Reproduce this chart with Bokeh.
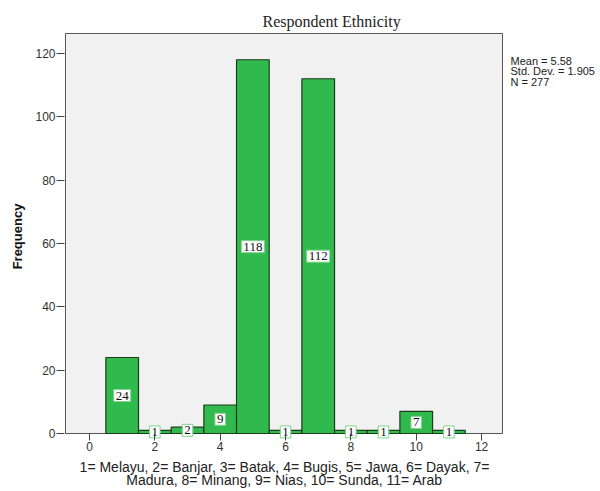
from bokeh.plotting import figure
from bokeh.models import ColumnDataSource, FixedTicker, Range1d, Title, LinearAxis
from bokeh.core.properties import value
from bokeh.embed import file_html
from bokeh.resources import INLINE

# Data
codes = [1, 2, 3, 4, 5, 6, 7, 8, 9, 10, 11]
counts = [24, 1, 2, 9, 118, 1, 112, 1, 1, 7, 1]
x_ticks = [0, 2, 4, 6, 8, 10, 12]
y_ticks = [0, 20, 40, 60, 80, 100, 120]
title_text = "Respondent Ethnicity"
stats_lines = ["Mean = 5.58", "Std. Dev. = 1.905", "N = 277"]
xlabel_lines = ["1= Melayu, 2= Banjar, 3= Batak, 4= Bugis, 5= Jawa, 6= Dayak, 7=",
                "Madura, 8= Minang, 9= Nias, 10= Sunda, 11= Arab"]

# Layout limits: grey panel and the (slightly larger) frame
panel_x = (-0.735, 12.64)
panel_y = (0, 126.3)
frame_x = (-0.7656, 12.702)
frame_y = (-2.205, 126.61)
stats_pos = [117.57, 114.4, 111.09]   # vertical positions of the stats lines

src = ColumnDataSource(dict(
    x=codes,
    top=counts,
    mid=[c / 2 for c in counts],
    label=[str(c) for c in counts],
))

p = figure(width=600, height=491, output_backend="svg", toolbar_location=None,
           x_range=Range1d(*frame_x), y_range=Range1d(*frame_y),
           min_border_left=64, min_border_right=96, min_border_top=32, min_border_bottom=50)

p.background_fill_color = "white"
p.border_fill_color = "white"
p.outline_line_color = None
p.xgrid.visible = False
p.ygrid.visible = False

# grey panel with border
p.quad(left=[panel_x[0]], right=[panel_x[1]], bottom=[panel_y[0]], top=[panel_y[1]],
       fill_color="#f1f1f1", line_color="#555555", line_width=1)

p.vbar(x="x", top="top", bottom=0, width=1.0, source=src, fill_color="#30b94c",
       line_color="#1d3b1d", line_width=1.2)

p.text(x="x", y="mid", text="label", source=src,
       text_align="center", text_baseline="middle",
       text_font=value("Liberation Serif"), text_font_size="13px", text_color="#111111",
       background_fill_color="white", border_line_color="#7fd58b",
       border_line_width=1, padding=2)

# Axes
for ax in (p.xaxis[0], p.yaxis[0]):
    ax.axis_line_color = None
    ax.minor_tick_line_color = None
    ax.major_tick_line_color = "#444444"
    ax.major_label_text_font = "Liberation Sans"
    ax.major_label_text_font_size = "12px"
    ax.major_label_text_color = "#333333"

p.xaxis.ticker = FixedTicker(ticks=x_ticks)
p.yaxis.ticker = FixedTicker(ticks=y_ticks)
p.xaxis.major_tick_out = 0
p.xaxis.major_tick_in = 7
p.xaxis.major_label_standoff = 1
p.yaxis.major_tick_out = 8
p.yaxis.major_tick_in = 0
p.yaxis.major_label_standoff = 1

p.yaxis.axis_label = "Frequency"
p.yaxis.axis_label_text_font = "Liberation Sans"
p.yaxis.axis_label_text_font_style = "bold"
p.yaxis.axis_label_text_font_size = "13px"
p.yaxis.axis_label_text_color = "#111111"
p.yaxis.axis_label_standoff = 7

p.xaxis.axis_label = "\n".join(xlabel_lines)
p.xaxis.axis_label_text_font = "Liberation Sans"
p.xaxis.axis_label_text_font_style = "normal"
p.xaxis.axis_label_text_font_size = "14px"
p.xaxis.axis_label_text_color = "#222222"
p.xaxis.axis_label_text_line_height = 0.85
p.xaxis.axis_label_standoff = 5

# Stats text on the right, as labels of a bare right-hand axis
stats_axis = LinearAxis(ticker=FixedTicker(ticks=stats_pos),
                        major_label_overrides=dict(zip(stats_pos, stats_lines)),
                        axis_line_color=None, major_tick_line_color=None,
                        minor_tick_line_color=None, major_tick_in=0, major_tick_out=0,
                        major_label_standoff=6,
                        major_label_text_font="Liberation Sans",
                        major_label_text_font_size="11px",
                        major_label_text_color="#222222")
p.add_layout(stats_axis, "right")

# Title
p.add_layout(Title(text=title_text, align="left", offset=198, standoff=6,
                   text_font="Liberation Serif", text_font_size="16px",
                   text_font_style="normal", text_color="#222222"), "above")

open("out.html", "w").write(file_html(p, INLINE))
